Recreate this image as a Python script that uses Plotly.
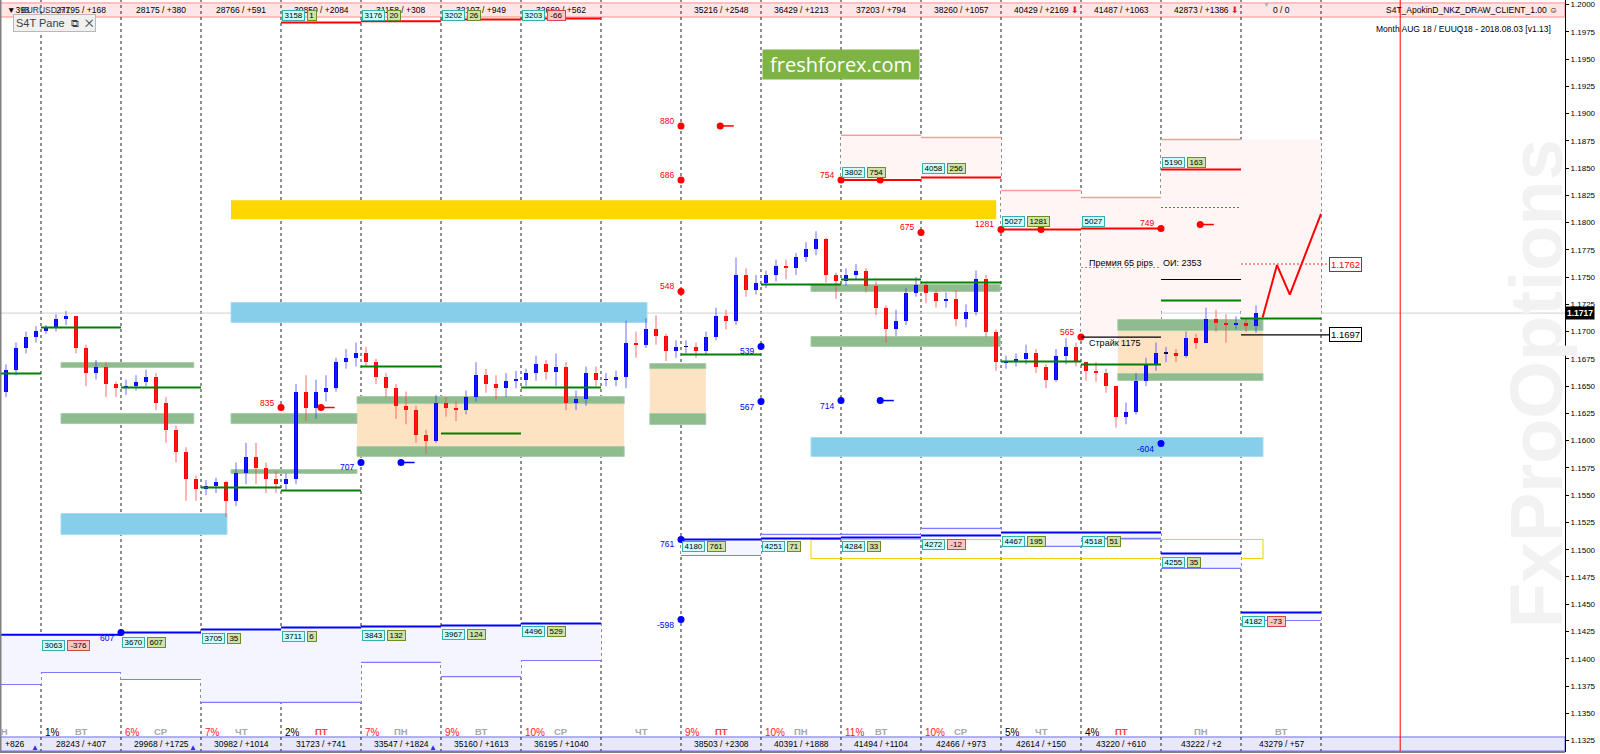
import plotly.graph_objects as go

# ---------------- candle data (3-hour sampling) ----------------
open_first = 1.1645
close_prices = [
    1.1665, 1.1685, 1.1695, 1.1701,
    1.1703, 1.1712, 1.1714, 1.1685, 1.1662, 1.1668, 1.1652, 1.1648,
    1.1650, 1.1654, 1.1658, 1.1635, 1.1610, 1.1590, 1.1565, 1.1556,
    1.1558, 1.1562, 1.1545, 1.1570, 1.1585, 1.1575, 1.1565, 1.1560,
    1.1565, 1.1645, 1.1630, 1.1645, 1.1648, 1.1672, 1.1676, 1.1680,
    1.1672, 1.1658, 1.1648, 1.1632, 1.1628, 1.1605, 1.1600, 1.1635,
    1.1630, 1.1628, 1.1640, 1.1660, 1.1652, 1.1648, 1.1655, 1.1656,
    1.1662, 1.1670, 1.1663, 1.1668, 1.1635, 1.1638, 1.1662, 1.1656,
    1.1656, 1.1658, 1.1690, 1.1688, 1.1702, 1.1696, 1.1682, 1.1686,
    1.1686, 1.1682, 1.1695, 1.1714, 1.1710, 1.1752, 1.1738, 1.1745,
    1.1752, 1.1760, 1.1758, 1.1768, 1.1776, 1.1785, 1.1752, 1.1746,
    1.1752, 1.1756, 1.1742, 1.1722, 1.1702, 1.1710, 1.1735, 1.1743,
    1.1735, 1.1728, 1.1730, 1.1712, 1.1718, 1.1748, 1.1700, 1.1672,
    1.1673, 1.1675, 1.1680, 1.1668, 1.1656, 1.1678, 1.1686, 1.1672,
    1.1664, 1.1662, 1.1650, 1.1622, 1.1626, 1.1655, 1.1670, 1.1680,
    1.1680, 1.1678, 1.1694, 1.1690, 1.1712, 1.1708, 1.1706, 1.1708,
    1.1705, 1.1717,
]
high_prices = [
    1.1670, 1.1690, 1.1700, 1.1705,
    1.1706, 1.1716, 1.1719, 1.1714, 1.1688, 1.1674, 1.1672, 1.1654,
    1.1656, 1.1660, 1.1665, 1.1662, 1.1640, 1.1614, 1.1594, 1.1568,
    1.1564, 1.1566, 1.1563, 1.1580, 1.1598, 1.1598, 1.1580, 1.1572,
    1.1570, 1.1652, 1.1660, 1.1656, 1.1660, 1.1676, 1.1684, 1.1690,
    1.1686, 1.1675, 1.1662, 1.1652, 1.1645, 1.1632, 1.1610, 1.1642,
    1.1640, 1.1636, 1.1646, 1.1672, 1.1666, 1.1660, 1.1662, 1.1664,
    1.1666, 1.1678, 1.1674, 1.1680, 1.1672, 1.1646, 1.1668, 1.1668,
    1.1662, 1.1664, 1.1710, 1.1700, 1.1712, 1.1715, 1.1698, 1.1692,
    1.1692, 1.1690, 1.1700, 1.1722, 1.1720, 1.1768, 1.1758, 1.1752,
    1.1756, 1.1766, 1.1766, 1.1772, 1.1782, 1.1792, 1.1786, 1.1754,
    1.1758, 1.1762, 1.1758, 1.1746, 1.1724, 1.1720, 1.1740, 1.1750,
    1.1745, 1.1738, 1.1736, 1.1738, 1.1725, 1.1756, 1.1752, 1.1702,
    1.1678, 1.1680, 1.1688, 1.1684, 1.1670, 1.1684, 1.1694, 1.1690,
    1.1672, 1.1672, 1.1666, 1.1650, 1.1635, 1.1662, 1.1676, 1.1690,
    1.1686, 1.1684, 1.1700, 1.1698, 1.1722, 1.1720, 1.1716, 1.1714,
    1.1712, 1.1724,
]
low_prices = [
    1.1640, 1.1660, 1.1680, 1.1690,
    1.1698, 1.1700, 1.1706, 1.1680, 1.1650, 1.1656, 1.1640, 1.1640,
    1.1642, 1.1646, 1.1650, 1.1628, 1.1598, 1.1580, 1.1545, 1.1545,
    1.1550, 1.1552, 1.1530, 1.1540, 1.1560, 1.1560, 1.1552, 1.1552,
    1.1555, 1.1560, 1.1618, 1.1620, 1.1636, 1.1645, 1.1666, 1.1668,
    1.1668, 1.1652, 1.1640, 1.1620, 1.1615, 1.1598, 1.1588, 1.1598,
    1.1622, 1.1618, 1.1624, 1.1636, 1.1644, 1.1638, 1.1640, 1.1648,
    1.1650, 1.1655, 1.1656, 1.1650, 1.1628, 1.1628, 1.1632, 1.1650,
    1.1650, 1.1650, 1.1648, 1.1676, 1.1685, 1.1688, 1.1673, 1.1676,
    1.1680, 1.1676, 1.1678, 1.1692, 1.1702, 1.1706, 1.1732, 1.1734,
    1.1740, 1.1746, 1.1748, 1.1752, 1.1764, 1.1770, 1.1745, 1.1730,
    1.1742, 1.1748, 1.1736, 1.1715, 1.1690, 1.1696, 1.1706, 1.1732,
    1.1726, 1.1722, 1.1722, 1.1705, 1.1704, 1.1715, 1.1695, 1.1664,
    1.1666, 1.1668, 1.1670, 1.1662, 1.1648, 1.1654, 1.1670, 1.1668,
    1.1655, 1.1654, 1.1644, 1.1612, 1.1615, 1.1624, 1.1650, 1.1664,
    1.1672, 1.1672, 1.1676, 1.1684, 1.1698, 1.1700, 1.1690, 1.1702,
    1.1700, 1.1699,
]
candles_per_day = 8
first_candle_day = -0.5

forecast_days = [15.27, 15.45, 15.61, 16.0]
forecast_prices = [1.1713, 1.1761, 1.1734, 1.1808]

current_price = 1.1717

# ---------------- strips ----------------
top_strip_days = [0, 1, 2, 3, 4, 5, 6, 8, 9, 10, 11, 12, 13, 14, 15]
top_strip_text = ["27795 / +168", "28175 / +380", "28766 / +591", "30850 / +2084", "31158 / +308",
                  "32107 / +949", "32669 / +562", "35216 / +2548", "36429 / +1213", "37203 / +794",
                  "38260 / +1057", "40429 / +2169", "41487 / +1063", "42873 / +1386", "0 / 0"]
bottom_strip_days = [0, 1, 2, 3, 4, 5, 6, 8, 9, 10, 11, 12, 13, 14, 15]
bottom_strip_text = ["28243 / +407", "29968 / +1725", "30982 / +1014", "31723 / +741", "33547 / +1824",
                     "35160 / +1613", "36195 / +1040", "38503 / +2308", "40391 / +1888", "41494 / +1104",
                     "42466 / +973", "42614 / +150", "43220 / +610", "43222 / +2", "43279 / +57"]
weekday_days = list(range(-1, 16))
weekday_names = ['ПН', 'ВТ', 'СР', 'ЧТ', 'ПТ', 'ПН', 'ВТ', 'СР', 'ЧТ', 'ПТ', 'ПН', 'ВТ', 'СР', 'ЧТ', 'ПТ', 'ПН', 'ВТ']
pct_days = [0, 1, 2, 3, 4, 5, 6, 8, 9, 10, 11, 12, 13]
pct_text = ['1%', '6%', '7%', '2%', '7%', '9%', '10%', '9%', '10%', '11%', '10%', '5%', '4%']
pct_red = [False, True, True, False, True, True, True, True, True, True, True, False, False]

# ---------------- zones (day0, day1, price_low, price_high) ----------------
green_zones = [(0.25, 1.91, 1.16671, 1.16717), (0.25, 1.91, 1.16157, 1.16249),
               (2.375, 3.95, 1.16157, 1.16249), (2.375, 3.95, 1.15699, 1.15735),
               (3.95, 7.29, 1.16340, 1.16405), (3.95, 7.29, 1.15855, 1.15946),
               (7.61, 8.31, 1.16661, 1.16707), (7.61, 8.31, 1.16148, 1.16249),
               (9.625, 11.99, 1.17368, 1.17432), (9.625, 11.99, 1.16864, 1.16955),
               (13.46, 15.275, 1.17010, 1.17111), (13.46, 15.275, 1.16552, 1.16616)]
tan_zones = [(3.95, 7.29, 1.15946, 1.16340), (7.61, 8.31, 1.16249, 1.16661), (13.46, 15.275, 1.16616, 1.17010)]
blue_zones = [(2.375, 7.575, 1.17084, 1.17267), (0.25, 2.325, 1.15139, 1.15332), (9.625, 15.275, 1.15855, 1.16029)]
yellow_zones = [(2.375, 11.94, 1.18031, 1.18205)]
yellow_outline = [(9.625, 15.275, 1.14920, 1.15094)]
pink_zones = [(10, 11, 1.1839, 1.1880), (11, 12, 1.18413, 1.18780), (12, 13, 1.17937, 1.18294),
              (13, 14, 1.1695, 1.18230), (14, 15, 1.1720, 1.18762), (15, 16, 1.1713, 1.18762)]
pink_top_lines = [(10, 11, 1.1880), (11, 12, 1.18780), (12, 13, 1.18294), (13, 14, 1.18230), (14, 15, 1.18762)]

# ---------------- horizontal levels (day0, day1, price) ----------------
green_lines = [(-0.5, 0, 1.16616), (0, 1, 1.17038), (1, 2, 1.16488), (2, 3, 1.15570), (3, 4, 1.15543),
               (4, 5, 1.16680), (5, 6, 1.16066), (6, 7, 1.16488), (8, 9, 1.16790), (9, 10, 1.17432),
               (10, 11, 1.17478), (11, 12, 1.17450), (12, 13, 1.16726), (13, 14, 1.16698),
               (14, 15, 1.17286), (15, 16, 1.17120)]
red_lines = [(10, 11, 1.1839), (11, 12, 1.18413), (12, 13, 1.17937), (13, 14, 1.17946), (14, 15, 1.18487),
             (3, 4, 1.19835), (4, 5, 1.19845), (5, 6, 1.19862), (6, 7, 1.19872)]
red_dotted = [(14, 15, 1.18138), (15, 16.1, 1.1762)]
pink_dotted = [(13, 14, 1.17588)]
black_lines = [(13, 14, 1.1695), (14, 15, 1.17478), (15, 16.1, 1.1697)]
blue_thick = [(-0.5, 1, 1.14220), (1, 2, 1.14240), (2, 3, 1.14268), (3, 4, 1.14287), (4, 5, 1.14296),
              (5, 6, 1.14305), (6, 7, 1.14323),
              (8, 9, 1.15094), (9, 10, 1.15103), (10, 11, 1.15112), (11, 12, 1.15130), (12, 13, 1.15158),
              (13, 14, 1.15158), (14, 15, 1.14965), (15, 16, 1.14424)]
blue_thin = [(-0.5, 0, 1.13764), (0, 1, 1.13874), (1, 2, 1.13810), (2, 3, 1.13600), (3, 4, 1.13600),
             (4, 5, 1.13966), (5, 6, 1.13837), (6, 7, 1.13984),
             (8, 9, 1.14947), (9, 10, 1.15140), (10, 11, 1.15140), (11, 12, 1.15195), (12, 13, 1.15030),
             (13, 14, 1.15104), (14, 15, 1.14828), (15, 16, 1.14351)]

# ---------------- labelled points ----------------
red_points = [(8, 1.18886, '880'), (8, 1.18390, '686'), (8, 1.17368, '548'), (10, 1.1839, '754'),
              (11, 1.17909, '675'), (12, 1.17937, '1281'), (13, 1.1695, '565'), (14, 1.17946, '749'),
              (3, 1.16304, '835')]
red_plain_points = [(10.49, 1.1839), (12.5, 1.17937)]
red_tail_points = [(8.49, 1.18886), (3.5, 1.16304), (14.49, 1.17982)]
blue_points = [(9, 1.16864, '539'), (9, 1.16359, '567'), (10, 1.16368, '714'), (4, 1.15800, '707'),
               (8, 1.14360, '-598'), (14, 1.15974, '-604'), (1, 1.14240, '607'), (8, 1.15094, '761')]
blue_tail_points = [(10.49, 1.16368), (4.5, 1.15800)]

box_pairs = [
    (10, 1.18459, '3802', '754'), (11, 1.18496, '4058', '256'), (12, 1.18010, '5027', '1281'),
    (13, 1.18010, '5027', ''), (14, 1.18551, '5190', '163'),
    (3, 1.19900, '3158', '1'), (4, 1.19900, '3176', '20'), (5, 1.19900, '3202', '26'), (6, 1.19900, '3203', '-66'),
    (8, 1.15025, '4180', '761'), (9, 1.15025, '4251', '71'), (10, 1.15034, '4284', '33'),
    (11, 1.15050, '4272', '-12'), (12, 1.15078, '4467', '195'), (13, 1.15078, '4518', '51'),
    (14, 1.14881, '4255', '35'), (15, 1.14342, '4182', '-73'),
    (0, 1.14122, '3063', '-376'), (1, 1.14150, '3670', '607'), (2, 1.14186, '3705', '35'),
    (3, 1.14204, '3711', '6'), (4, 1.14213, '3843', '132'), (5, 1.14223, '3967', '124'),
    (6, 1.14250, '4496', '529'),
]

separator_days = list(range(0, 17))
red_vertical_day = 16.99

# ---------------- axis geometry ----------------
x_range = [-0.5125, 19.05]
y_range = [1.13145, 1.20041]
FONT = "Liberation Sans"

shapes = []
annotations = []


def rect(d0, d1, p0, p1, fill, line_color=None, width=0, layer='below', dash=None):
    shapes.append(dict(type='rect', xref='x', yref='y', x0=d0, x1=d1, y0=p0, y1=p1,
                       fillcolor=fill, layer=layer,
                       line=dict(color=line_color or 'rgba(0,0,0,0)', width=width, dash=dash)))


def hline(d0, d1, p, color, width=1, dash=None, layer='above'):
    shapes.append(dict(type='line', xref='x', yref='y', x0=d0, x1=d1, y0=p, y1=p, layer=layer,
                       line=dict(color=color, width=width, dash=dash)))


def text(x, y, s, size=9, color='black', xanchor='center', yanchor='middle', xref='x', yref='y',
         xshift=0, yshift=0, family=FONT, **kw):
    annotations.append(dict(x=x, y=y, xref=xref, yref=yref, text=s, showarrow=False,
                            xanchor=xanchor, yanchor=yanchor, xshift=xshift, yshift=yshift,
                            font=dict(family=family, size=size, color=color), **kw))


# strips
shapes.append(dict(type='rect', xref='paper', yref='y', x0=0, x1=1, y0=1.19885, y1=1.20014,
                   fillcolor='#FFE6E6', line=dict(color='#FF8C8C', width=1), layer='below'))
shapes.append(dict(type='rect', xref='paper', yref='y', x0=0, x1=1, y0=1.13154, y1=1.13282,
                   fillcolor='#E8E8FC', line=dict(color='#9A9AF0', width=1.5), layer='below'))

# zones
for d0, d1, p0, p1 in pink_zones:
    rect(d0, d1, p0, p1, '#FFF5F5')
for d0, d1, p in pink_top_lines:
    hline(d0, d1, p, '#FF9A9A', 1.5, layer='below')
for d0, d1, p0, p1 in yellow_zones:
    rect(d0, d1, p0, p1, '#FFD700')
for d0, d1, p0, p1 in blue_zones:
    rect(d0, d1, p0, p1, '#87CEEB', '#A8DCF0', 1)
for d0, d1, p0, p1 in tan_zones:
    rect(d0, d1, p0, p1, '#FDE3C2')
for d0, d1, p0, p1 in green_zones:
    rect(d0, d1, p0, p1, '#8FBC8F', '#A9CCA9', 1)
for d0, d1, p0, p1 in yellow_outline:
    rect(d0, d1, p0, p1, 'rgba(0,0,0,0)', '#F0D000', 1)

# lavender fills between each thick blue level and the thin blue level of the same day
for e0, e1, q in blue_thin:
    for d0, d1, p in blue_thick:
        if d0 <= e0 < d1:
            rect(e0, e1, min(p, q), max(p, q), '#F5F5FF')
            break
for d0, d1, p in blue_thin:
    hline(d0, d1, p, '#7B7BFF', 1.2, layer='below')

# separators, price line, red vertical
for d in separator_days:
    shapes.append(dict(type='line', xref='x', yref='paper', x0=d, x1=d, y0=0, y1=1, layer='below',
                       line=dict(color='#202020', width=1, dash='3px,3px')))
shapes.append(dict(type='line', xref='paper', yref='y', x0=0, x1=1, y0=current_price, y1=current_price,
                   layer='below', line=dict(color='#D0D0D0', width=1)))
shapes.append(dict(type='line', xref='x', yref='paper', x0=red_vertical_day, x1=red_vertical_day, y0=0, y1=1,
                   layer='below', line=dict(color='#FF0000', width=1)))

# level lines
for d0, d1, p in green_lines:
    hline(d0, d1, p, '#008000', 2)
for d0, d1, p in red_lines:
    hline(d0, d1, p, '#FF0000', 2)
for d0, d1, p in red_dotted:
    hline(d0, d1, p, '#FF3030', 1.2, dash='2px,2px')
for d0, d1, p in pink_dotted:
    hline(d0, d1, p, '#FF7070', 1.2, dash='2px,2px')
for d0, d1, p in black_lines:
    hline(d0, d1, p, '#000000', 1.2)
for d0, d1, p in blue_thick:
    hline(d0, d1, p, '#0000FF', 2)
for d, p in red_tail_points:
    hline(d, d + 0.17, p, '#FF0000', 1.5)
for d, p in blue_tail_points:
    hline(d, d + 0.17, p, '#0000FF', 1.5)

# frame
shapes.append(dict(type='line', xref='paper', yref='paper', x0=0, x1=0, y0=0, y1=1,
                   line=dict(color='#808080', width=3)))
shapes.append(dict(type='line', xref='paper', yref='paper', x0=0, x1=1, y0=0, y1=0,
                   line=dict(color='#808080', width=2)))

# ---------------- traces ----------------
opens = [open_first] + close_prices[:-1]
cx = [first_candle_day + (k + 0.5) / candles_per_day for k in range(len(close_prices))]
highs = [max(h, o, c) for h, o, c in zip(high_prices, opens, close_prices)]
lows = [min(l, o, c) for l, o, c in zip(low_prices, opens, close_prices)]

fig = go.Figure()

# wicks
for up, col in [(True, 'rgba(60,60,255,0.75)'), (False, 'rgba(255,60,60,0.75)')]:
    wx, wy = [], []
    for x, o, c, h, l in zip(cx, opens, close_prices, highs, lows):
        if (c >= o) == up:
            wx += [x, x, None]
            wy += [l, h, None]
    fig.add_trace(go.Scatter(x=wx, y=wy, mode='lines', line=dict(color=col, width=1),
                             showlegend=False, hoverinfo='skip'))
# bodies
fig.add_trace(go.Bar(x=cx, base=[min(o, c) for o, c in zip(opens, close_prices)],
                     y=[max(abs(c - o), 0.00004) for o, c in zip(opens, close_prices)],
                     width=0.06,
                     marker=dict(color=['#0000FF' if c > o else ('#FF0000' if c < o else '#000000')
                                        for o, c in zip(opens, close_prices)], line=dict(width=0)),
                     showlegend=False, hoverinfo='skip'))

fig.add_trace(go.Scatter(x=forecast_days, y=forecast_prices, mode='lines',
                         line=dict(color='#FF0000', width=2), showlegend=False, hoverinfo='skip'))
fig.add_trace(go.Scatter(x=[p[0] for p in red_points] + [p[0] for p in red_plain_points] + [p[0] for p in red_tail_points],
                         y=[p[1] for p in red_points] + [p[1] for p in red_plain_points] + [p[1] for p in red_tail_points],
                         mode='markers', marker=dict(color='#FF0000', size=7), showlegend=False, hoverinfo='skip'))
fig.add_trace(go.Scatter(x=[p[0] for p in blue_points] + [p[0] for p in blue_tail_points],
                         y=[p[1] for p in blue_points] + [p[1] for p in blue_tail_points],
                         mode='markers', marker=dict(color='#0000FF', size=7), showlegend=False, hoverinfo='skip'))

# ---------------- annotations ----------------
# watermark
text(0.982, 0.49, '<b>FxProOptions</b>', size=74, color='#F2F2F2', xref='paper', yref='paper', textangle=-90)

for d, s in zip(top_strip_days, top_strip_text):
    text(d + 0.5, 1.19950, s, size=8.5)
text(-0.45, 1.19950, '▼398', size=8.5, xanchor='left')
text(-0.28, 1.19950, 'EURUSD,H1', size=8.5, xanchor='left', color='#303030')
text(18.99, 1.19950, 'S4T_ApokinD_NKZ_DRAW_CLIENT_1.00 ☺', size=8.5, xanchor='right')
text(18.9, 1.19771, 'Month AUG 18 / EUUQ18 - 2018.08.03 [v1.13]', size=8.5, xanchor='right')
text(12.92, 1.19950, '⬇', size=9, color='#E02020')
text(14.92, 1.19950, '⬇', size=9, color='#E02020')
text(15.32, 1.20000, '▼', size=7, color='#B0B0B0')
text(-0.35, 1.19826, 'S4T Pane  ⧉  ✕', size=11, color='#404040', xanchor='left',
     bgcolor='#F0F0F0', bordercolor='#B8B8B8', borderwidth=1, borderpad=2)

for d, s in zip(bottom_strip_days, bottom_strip_text):
    text(d + 0.5, 1.13218, s, size=8.5)
text(-0.475, 1.13218, '+826', size=8.5, xanchor='left')
for d in [-0.08, 1.9, 4.9]:
    text(d, 1.13190, '▲', size=8, color='#3030E0')
for d, nm in zip(weekday_days, weekday_names):
    text(d + 0.5, 1.13330, '<b>' + nm + '</b>', size=9.5, color='#FF4040' if nm == 'ПТ' else '#A8A8A8')
for d, s, r in zip(pct_days, pct_text, pct_red):
    text(d + 0.02, 1.13322, s, size=10, color='#FF2020' if r else '#000000', xanchor='left')

for d, p, s in red_points:
    text(d, p, s, size=8.5, color='#FF0000', xanchor='right', xshift=-5, yshift=5)
for d, p, s in blue_points:
    text(d, p, s, size=8.5, color='#0000FF', xanchor='right', xshift=-5, yshift=-5)


def box(d, p, s, kind, xshift):
    colors = {'c': ('#CCFFFF', '#35B0B0'), 'g': ('#CFE3A8', '#6B8E23'), 'r': ('#FFC4C4', '#D04848')}
    bg, bc = colors[kind]
    w = len(s) * 4.6 + 3
    text(d, p, s, size=8, color='#000000', xanchor='left', xshift=xshift,
         bgcolor=bg, bordercolor=bc, borderwidth=1, borderpad=0, width=w, height=9)
    return w + 2


for d, p, a, b in box_pairs:
    w = box(d, p, a, 'c', 1)
    if b:
        box(d, p, b, 'r' if b.startswith('-') else 'g', 1 + w + 2)

text(13.08, 1.17629, 'Премия 65 pips    ОИ: 2353', size=9, xanchor='left')
text(13.08, 1.16895, 'Страйк 1175', size=9, xanchor='left')
text(16.1, 1.1762, '1.1762', size=9.5, color='#FF0000', xanchor='left', bgcolor='white',
     bordercolor='#FF0000', borderwidth=1, borderpad=1)
text(16.1, 1.1697, '1.1697', size=9.5, color='#000000', xanchor='left', bgcolor='white',
     bordercolor='#000000', borderwidth=1, borderpad=1)
text(1.0, current_price, '<b>1.1717</b>', size=8.5, color='white', xanchor='left', xref='paper',
     bgcolor='black', borderpad=1)
text(10.0, 1.19454, 'freshforex.com', size=20, color='white', family='Open Sans',
     bgcolor='#7DB443', borderpad=2, width=152, height=25)

fig.update_layout(
    width=1600, height=754,
    margin=dict(l=0, r=35, t=0, b=2),
    paper_bgcolor='white', plot_bgcolor='white',
    showlegend=False, barmode='overlay', bargap=0,
    shapes=shapes, annotations=annotations,
    xaxis=dict(range=x_range, visible=False, fixedrange=True),
    yaxis=dict(range=y_range, side='right', tick0=1.2, dtick=0.0025, tickformat='.4f',
               ticks='outside', ticklen=3, tickcolor='black', showgrid=False, zeroline=False,
               showline=True, linecolor='black', linewidth=1,
               tickfont=dict(family=FONT, size=8, color='black')),
)

fig.write_html("out.html", config={'displayModeBar': False},
               post_script="document.body.style.margin='0px';document.body.style.overflow='hidden';")
